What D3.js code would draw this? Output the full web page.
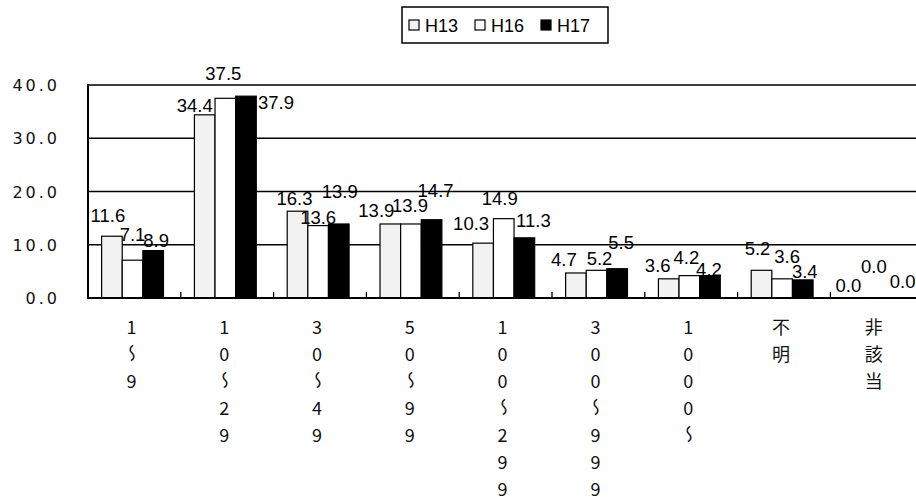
<!DOCTYPE html>
<html>
<head>
<meta charset="utf-8">
<script src="https://cdn.jsdelivr.net/npm/d3@7"></script>
<style>
  html, body { margin: 0; padding: 0; background: #fff; }
  svg { display: block; }
</style>
</head>
<body>
<svg id="chart" width="916" height="504"></svg>
<script>
// ---- data ----
const categories = ["1〜9", "10〜29", "30〜49", "50〜99", "100〜299", "300〜999", "1000〜", "不明", "非該当"];
const seriesNames = ["H13", "H16", "H17"];
const h13 = [11.6, 34.4, 16.3, 13.9, 10.3, 4.7, 3.6, 5.2, 0.0];
const h16 = [7.1, 37.5, 13.6, 13.9, 14.9, 5.2, 4.2, 3.6, 0.0];
const h17 = [8.9, 37.9, 13.9, 14.7, 11.3, 5.5, 4.2, 3.4, 0.0];
const yTicks = [0, 10, 20, 30, 40];

// ---- layout / style ----
const seriesValues = [h13, h16, h17];
const seriesFill = ["#f2f2f2", "#ffffff", "#000000"];
// per-label nudges (dx, dy) from the top centre of each bar, so crowded labels do not collide
const labelNudge = [
  [[-4,-14],[-10,-3],[-3,-6],[-14,-7],[-12,-13],[-12,-7],[-11,-7],[-4,-15],[-6,-6]],
  [[0,-19],[-2,-18],[0,-2],[-1,-12],[-4,-14],[3,-5],[-3,-12],[5,-16],[-1,-25]],
  [[3,-4],[30,13],[1,-26],[4,-23],[9,-11],[4,-20],[-1,0],[2,-2],[7,-10]]
];

const plot = { left: 88, top: 85, bottom: 298, groupWidth: 92.8 };

const svg = d3.select("#chart");

const x0 = d3.scaleBand()
  .domain(categories)
  .range([plot.left, plot.left + categories.length * plot.groupWidth])
  .padding(0);

const x1 = d3.scaleBand()
  .domain(seriesNames)
  .range([0, x0.bandwidth()])
  .paddingInner(0)
  .paddingOuter(0.75)
  .align(0.44);

const y = d3.scaleLinear().domain([0, 40]).range([plot.bottom, plot.top]);

// gridlines
svg.append("g")
  .selectAll("line")
  .data(yTicks.filter(d => d > 0))
  .join("line")
  .attr("x1", plot.left)
  .attr("x2", 916)
  .attr("y1", d => y(d))
  .attr("y2", d => y(d))
  .attr("stroke", "#000")
  .attr("stroke-width", 1.3);

// bars
const groups = svg.append("g")
  .selectAll("g")
  .data(categories)
  .join("g")
  .attr("transform", d => `translate(${x0(d)},0)`);

groups.selectAll("rect")
  .data((c, i) => seriesNames.map((s, k) => ({ s, k, v: seriesValues[k][i] })))
  .join("rect")
  .attr("x", d => x1(d.s))
  .attr("width", x1.bandwidth())
  .attr("y", d => y(d.v))
  .attr("height", d => y(0) - y(d.v))
  .attr("fill", d => seriesFill[d.k])
  .attr("stroke", "#000")
  .attr("stroke-width", 1.2);

// category separator ticks on the axis
svg.append("g")
  .selectAll("line")
  .data(categories.slice(1))
  .join("line")
  .attr("x1", d => x0(d))
  .attr("x2", d => x0(d))
  .attr("y1", plot.bottom)
  .attr("y2", plot.bottom - 6)
  .attr("stroke", "#000")
  .attr("stroke-width", 1.3);

// axes lines
svg.append("line")
  .attr("x1", plot.left).attr("x2", plot.left)
  .attr("y1", y(40) - 1).attr("y2", plot.bottom + 1)
  .attr("stroke", "#000").attr("stroke-width", 2);
svg.append("line")
  .attr("x1", plot.left - 1).attr("x2", 916)
  .attr("y1", plot.bottom).attr("y2", plot.bottom)
  .attr("stroke", "#000").attr("stroke-width", 2.2);

// y tick labels
svg.append("g")
  .selectAll("text")
  .data(yTicks)
  .join("text")
  .attr("x", 60)
  .attr("y", d => y(d) + 6)
  .attr("text-anchor", "end")
  .attr("font-family", "DejaVu Sans")
  .attr("font-size", 16)
  .attr("letter-spacing", 3)
  .attr("fill", "#111")
  .text(d => d3.format(".1f")(d));

// value labels
groups.selectAll("text.val")
  .data((c, i) => seriesNames.map((s, k) => ({ s, k, i, v: seriesValues[k][i] })))
  .join("text")
  .attr("class", "val")
  .attr("x", d => x1(d.s) + x1.bandwidth() / 2 + labelNudge[d.k][d.i][0])
  .attr("y", d => y(d.v) + labelNudge[d.k][d.i][1])
  .attr("text-anchor", "middle")
  .attr("font-family", "Liberation Sans, Arial, sans-serif")
  .attr("font-size", 18.5)
  .attr("fill", "#000")
  .text(d => d3.format(".1f")(d.v));

// vertical category labels, one character per row
const charStep = 27;
const labelTop = 326;
const catLabels = svg.append("g")
  .attr("font-family", "Noto Sans CJK JP")
  .attr("font-size", 18)
  .attr("fill", "#111");

categories.forEach(c => {
  const cx = x0(c) + x0.bandwidth() / 2 - 3;
  Array.from(c).forEach((ch, j) => {
    const cy = labelTop + j * charStep;
    const t = catLabels.append("text")
      .attr("text-anchor", "middle")
      .attr("dominant-baseline", "central")
      .text(ch);
    if (ch === "〜") {
      // wave dash stands upright in vertical text
      t.attr("transform", `translate(${cx},${cy}) rotate(90) scale(1,-1)`);
    } else {
      t.attr("x", cx).attr("y", cy);
    }
  });
});

// legend
const legend = svg.append("g");
legend.append("rect")
  .attr("x", 402).attr("y", 7)
  .attr("width", 206).attr("height", 36)
  .attr("fill", "#fff")
  .attr("stroke", "#000")
  .attr("stroke-width", 1.5);

const items = legend.selectAll("g.item")
  .data(seriesNames)
  .join("g")
  .attr("class", "item")
  .attr("transform", (d, i) => `translate(${409 + i * 66},0)`);

items.append("rect")
  .attr("x", 0).attr("y", 20)
  .attr("width", 10).attr("height", 10)
  .attr("fill", (d, i) => seriesFill[i])
  .attr("stroke", "#000")
  .attr("stroke-width", 1.2);

items.append("text")
  .attr("x", 16).attr("y", 32)
  .attr("font-family", "Liberation Sans, Arial, sans-serif")
  .attr("font-size", 18)
  .attr("fill", "#000")
  .text(d => d);
</script>
</body>
</html>
